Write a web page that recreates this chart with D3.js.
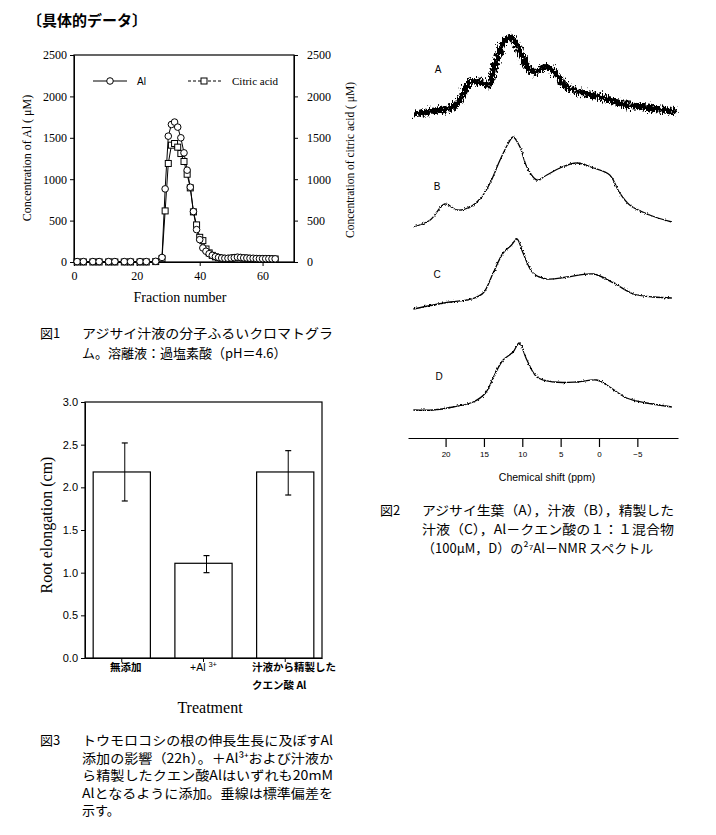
<!DOCTYPE html>
<html>
<head>
<meta charset="utf-8">
<script src="https://cdn.jsdelivr.net/npm/d3@7"></script>
<style>
  body { margin: 0; background: #fff; }
  svg { display: block; }
</style>
</head>
<body>
<svg id="fig" width="716" height="835"></svg>
<script>
// ---- Fig.1 chromatogram data ----
const fractions = [1,3,6,8,11,13,16,18,21,23,26,28,29,30,31,32,33,34,35,36,37,38,39,40,41,42,43,44,45,46,47,48,49,50,51,52,53,54,55,56,57,58,59,60,61,62,63,64];
const alConc = [5,5,5,5,5,5,5,5,5,5,8,55,883,1520,1661,1690,1629,1500,1318,1109,903,609,391,270,170,130,100,80,65,55,48,45,45,48,52,58,55,50,48,45,45,42,40,40,40,40,38,38];
const citricConc = [0,0,0,0,0,0,0,0,0,0,5,40,617,1190,1411,1431,1387,1310,1214,1060,895,605,448,298,258,157,110,80,62,52,45,42,42,45,50,55,52,48,45,42,42,40,38,38,38,38,36,36];
const concTicks = [0,500,1000,1500,2000,2500];
const fractionTicks = [0,20,40,60];

// ---- Fig.2 27Al-NMR spectra (arbitrary intensity above each baseline) ----
const ppmA = [24.2,21.6,19.0,17.9,16.8,15.5,14.4,13.5,12.7,11.6,10.7,9.6,8.6,6.8,5.5,4.2,2.5,-0.1,-3.6,-6.6,-10.1];
const intA = [1,4,8,18,33,33,30,52,68,78,70,52,43,48,40,28,23,18,10,7,3];
const ppmB = [24.2,22.0,20.1,18.5,16.8,15.3,14.2,12.9,11.8,11.2,10.3,9.4,8.1,6.8,5.1,2.9,0.7,-1.4,-2.7,-4.0,-6.6,-9.5];
const intB = [0,7,23,17,20,30,44,67,84,90,80,60,47,52,59,64,59,52,34,22,12,5];
const ppmC = [24.2,21.6,19.4,16.6,15.1,13.8,12.5,11.4,10.7,9.9,8.6,6.8,4.2,0.7,-1.9,-4.5,-7.1,-9.5];
const intC = [0,4,7,10,16,36,56,64,70,56,36,30,32,35,26,15,12,11];
const ppmD = [24.2,21.6,19.0,16.4,14.8,13.5,12.5,11.2,10.4,9.4,8.1,5.9,2.9,0.3,-1.0,-3.6,-6.2,-9.5];
const intD = [0,0,3,8,17,37,50,58,67,50,33,28,28,30,25,12,7,3];
const spectrumNames = ["A","B","C","D"];
const spectrumBase = [323,211,129,28];
const ppmTicks = [20,15,10,5,0,-5];

// ---- Fig.3 root elongation ----
const treatments = ["無添加","+Al3+","汁液から精製したクエン酸Al"];
const elongation = [2.18,1.11,2.18];
const elongTop = [2.52,1.20,2.43];
const elongBottom = [1.84,1.00,1.91];
const elongTicks = [0,0.5,1.0,1.5,2.0,2.5,3.0];

const svg = d3.select("#fig");
svg.append("rect").attr("width", 716).attr("height", 835).attr("fill", "#fff");

const serif = "'Liberation Serif','DejaVu Serif',serif";
const sans = "'Liberation Sans','DejaVu Sans',sans-serif";
const jp = "'Noto Sans CJK JP',sans-serif";

// title
svg.append("text").attr("x", 27).attr("y", 26)
  .attr("font-family", jp).attr("font-size", 15).attr("font-weight", 700)
  .text("〔具体的データ〕");

// ================= Fig.1 =================
const x1 = d3.scaleLinear().domain([0, 70]).range([74, 294]);
const y1 = d3.scaleLinear().domain([0, 2500]).range([262, 55]);
const g1 = svg.append("g");

g1.append("rect").attr("x", 74).attr("y", 55).attr("width", 220).attr("height", 207)
  .attr("fill", "none").attr("stroke", "#000").attr("stroke-width", 1.2);

const ax1 = g1.append("g").attr("transform", "translate(74,0)")
  .call(d3.axisLeft(y1).tickValues(concTicks).tickFormat(d3.format("d")).tickSize(4).tickSizeOuter(0));
const ax1r = g1.append("g").attr("transform", "translate(294,0)")
  .call(d3.axisRight(y1).tickValues(concTicks).tickFormat(d3.format("d")).tickSize(4).tickSizeOuter(0));
const ax1b = g1.append("g").attr("transform", "translate(0,262)")
  .call(d3.axisBottom(x1).tickValues(fractionTicks).tickSize(4).tickSizeOuter(0));
[ax1, ax1r, ax1b].forEach(a => {
  a.selectAll("text").attr("font-family", serif).attr("font-size", 12).attr("fill", "#000");
  a.selectAll("line,path").attr("stroke", "#000");
});
ax1r.selectAll("text").attr("dx", "0.5em");
ax1b.selectAll("text").attr("dy", "0.9em");

g1.append("text").attr("transform", "translate(31,158) rotate(-90)")
  .attr("text-anchor", "middle").attr("font-family", serif).attr("font-size", 12)
  .text("Concentration of Al ( μM)");
g1.append("text").attr("transform", "translate(354,160) rotate(-90)")
  .attr("text-anchor", "middle").attr("font-family", serif).attr("font-size", 11.5)
  .text("Concentration of citric acid ( μM)");
g1.append("text").attr("x", 180).attr("y", 302).attr("text-anchor", "middle")
  .attr("font-family", serif).attr("font-size", 14).text("Fraction number");

const line1 = (vals) => d3.line().x((d, i) => x1(fractions[i])).y(d => y1(d))(vals);
g1.append("path").attr("d", line1(citricConc)).attr("fill", "none").attr("stroke", "#000").attr("stroke-width", 1);
g1.append("path").attr("d", line1(alConc)).attr("fill", "none").attr("stroke", "#000").attr("stroke-width", 1);
g1.selectAll(".sq").data(citricConc).enter().append("rect")
  .attr("x", (d, i) => x1(fractions[i]) - 3).attr("y", d => y1(d) - 3)
  .attr("width", 6).attr("height", 6)
  .attr("fill", "#fff").attr("stroke", "#000").attr("stroke-width", 1);
g1.selectAll(".ci").data(alConc).enter().append("circle")
  .attr("cx", (d, i) => x1(fractions[i])).attr("cy", d => y1(d)).attr("r", 3.3)
  .attr("fill", "#fff").attr("stroke", "#000").attr("stroke-width", 1);

// legend
g1.append("line").attr("x1", 93).attr("x2", 127).attr("y1", 81).attr("y2", 81).attr("stroke", "#000");
g1.append("circle").attr("cx", 110).attr("cy", 81).attr("r", 3.3).attr("fill", "#fff").attr("stroke", "#000");
g1.append("text").attr("x", 137).attr("y", 85).attr("font-family", sans).attr("font-size", 10).text("Al");
g1.append("line").attr("x1", 188).attr("x2", 222).attr("y1", 81).attr("y2", 81)
  .attr("stroke", "#000").attr("stroke-dasharray", "3,2");
g1.append("rect").attr("x", 201).attr("y", 78).attr("width", 6).attr("height", 6).attr("fill", "#fff").attr("stroke", "#000");
g1.append("text").attr("x", 232).attr("y", 85).attr("font-family", serif).attr("font-size", 11).text("Citric acid");

// caption helper
function caption(lines, x0, xIndent, y0, lh, label, fullWidth) {
  svg.append("text").attr("x", x0).attr("y", y0).attr("font-family", jp)
    .attr("font-size", 13).text(label);
  lines.forEach((t, i) => {
    const tx = svg.append("text").attr("x", xIndent).attr("y", y0 + i * lh)
      .attr("font-family", jp).attr("font-size", 13).text(t);
    if (fullWidth[i]) tx.attr("textLength", fullWidth[i]).attr("lengthAdjust", "spacingAndGlyphs");
  });
}
caption(["アジサイ汁液の分子ふるいクロマトグラ", "ム。溶離液：過塩素酸（pH＝4.6）"],
  40, 82, 338, 20, "図1", [251, 0]);

// ================= Fig.2 NMR =================
const x2 = d3.scaleLinear().domain([24.9, -10.3]).range([408, 678]);
const y2 = d3.scaleLinear().domain([0, 420]).range([438, 18]);
const g2 = svg.append("g");
const defs = svg.append("defs");
const fA = defs.append("filter").attr("id", "noiseA").attr("x", "-5%").attr("y", "-40%").attr("width", "110%").attr("height", "180%");
fA.append("feTurbulence").attr("type", "fractalNoise").attr("baseFrequency", "1.2 0.3").attr("numOctaves", 2).attr("seed", 3).attr("result", "t");
fA.append("feDisplacementMap").attr("in", "SourceGraphic").attr("in2", "t").attr("scale", 11).attr("xChannelSelector", "R").attr("yChannelSelector", "G");
const fB = defs.append("filter").attr("id", "noiseB").attr("x", "-5%").attr("y", "-30%").attr("width", "110%").attr("height", "160%");
fB.append("feTurbulence").attr("type", "fractalNoise").attr("baseFrequency", "0.9 0.5").attr("numOctaves", 1).attr("seed", 7).attr("result", "t");
fB.append("feDisplacementMap").attr("in", "SourceGraphic").attr("in2", "t").attr("scale", 3).attr("xChannelSelector", "R").attr("yChannelSelector", "G");

const spectra = [[ppmA, intA], [ppmB, intB], [ppmC, intC], [ppmD, intD]];
const labelPos = [[438, 69], [437, 186], [437, 274], [439, 376]];
spectra.forEach(([pp, iv], k) => {
  const ln = d3.line().curve(d3.curveCatmullRom)
    .x((d, i) => x2(pp[i])).y(d => y2(spectrumBase[k] + d));
  g2.append("path").attr("d", ln(iv)).attr("fill", "none").attr("stroke", "#000")
    .attr("stroke-width", k === 0 ? 6.5 : 1.3)
    .attr("filter", k === 0 ? "url(#noiseA)" : "url(#noiseB)");
  g2.append("text").attr("x", labelPos[k][0]).attr("y", labelPos[k][1] + 4)
    .attr("text-anchor", "middle").attr("font-family", sans).attr("font-size", 10)
    .text(spectrumNames[k]);
});

const ax2 = g2.append("g").attr("transform", "translate(0,438)")
  .call(d3.axisBottom(x2).tickValues(ppmTicks).tickSize(9).tickSizeOuter(0));
ax2.selectAll("text").attr("font-family", sans).attr("font-size", 8).attr("dy", "0.9em").attr("fill", "#000");
ax2.selectAll("line,path").attr("stroke", "#000").attr("stroke-width", 1.2);
g2.append("text").attr("x", 547).attr("y", 481).attr("text-anchor", "middle")
  .attr("font-family", sans).attr("font-size", 10.5).text("Chemical shift (ppm)");

caption(["アジサイ生葉（A），汁液（B），精製した", "汁液（C），Al－クエン酸の１：１混合物", "（100μM，D）の²⁷Al－NMR スペクトル"],
  380, 422, 515, 19, "図2", [252, 252, 0]);

// ================= Fig.3 bars =================
const x3 = d3.scaleBand().domain(treatments).range([85, 322]).paddingInner(0.3).paddingOuter(0.1);
const y3 = d3.scaleLinear().domain([0, 3]).range([658, 402]);
const g3 = svg.append("g");

g3.append("rect").attr("x", 85).attr("y", 402).attr("width", 237).attr("height", 256)
  .attr("fill", "none").attr("stroke", "#000").attr("stroke-width", 1.2);
const ax3 = g3.append("g").attr("transform", "translate(85,0)")
  .call(d3.axisLeft(y3).tickValues(elongTicks).tickFormat(d3.format(".1f")).tickSize(4).tickSizeOuter(0));
ax3.selectAll("text").attr("font-family", sans).attr("font-size", 11).attr("fill", "#000");
ax3.selectAll("line,path").attr("stroke", "#000");
const ax3b = g3.append("g").attr("transform", "translate(0,658)")
  .call(d3.axisBottom(x3).tickSize(4).tickSizeOuter(0).tickFormat(""));
ax3b.selectAll("line,path").attr("stroke", "#000");

g3.selectAll(".bar").data(elongation).enter().append("rect")
  .attr("x", (d, i) => x3(treatments[i])).attr("width", x3.bandwidth())
  .attr("y", d => y3(d)).attr("height", d => y3(0) - y3(d))
  .attr("fill", "#fff").attr("stroke", "#000").attr("stroke-width", 1.2);
treatments.forEach((t, i) => {
  const cx = x3(t) + x3.bandwidth() / 2 + 3;
  g3.append("line").attr("x1", cx).attr("x2", cx).attr("y1", y3(elongTop[i])).attr("y2", y3(elongBottom[i])).attr("stroke", "#000");
  [elongTop[i], elongBottom[i]].forEach(v => {
    g3.append("line").attr("x1", cx - 3).attr("x2", cx + 3).attr("y1", y3(v)).attr("y2", y3(v)).attr("stroke", "#000").attr("stroke-width", 1.2);
  });
});

// category labels
const cx0 = x3(treatments[0]) + x3.bandwidth() / 2;
g3.append("text").attr("x", cx0 + 4).attr("y", 671).attr("text-anchor", "middle")
  .attr("font-family", jp).attr("font-size", 10.5).attr("font-weight", 700).text("無添加");
const lab2 = g3.append("text").attr("x", x3(treatments[1]) + x3.bandwidth() / 2).attr("y", 671)
  .attr("text-anchor", "middle").attr("font-family", sans).attr("font-size", 10.5);
lab2.append("tspan").text("+Al ");
lab2.append("tspan").attr("font-size", 7.5).attr("dy", -4).text("3+");
g3.append("text").attr("x", 252).attr("y", 671).attr("font-family", jp).attr("font-size", 10.5)
  .attr("font-weight", 700).text("汁液から精製した");
g3.append("text").attr("x", 252).attr("y", 689).attr("font-family", jp).attr("font-size", 10.5)
  .attr("font-weight", 700).text("クエン酸 Al");

g3.append("text").attr("transform", "translate(52,525) rotate(-90)")
  .attr("text-anchor", "middle").attr("font-family", serif).attr("font-size", 16)
  .text("Root elongation (cm)");
g3.append("text").attr("x", 210).attr("y", 713).attr("text-anchor", "middle")
  .attr("font-family", serif).attr("font-size", 16).text("Treatment");

caption(["トウモロコシの根の伸長生長に及ぼすAl", "添加の影響（22h）。＋Al³⁺および汁液か",
  "ら精製したクエン酸Alはいずれも20mM", "Alとなるように添加。垂線は標準偏差を", "示す。"],
  40, 82, 745, 17.5, "図3", [251, 251, 251, 251, 0]);
</script>
</body>
</html>
